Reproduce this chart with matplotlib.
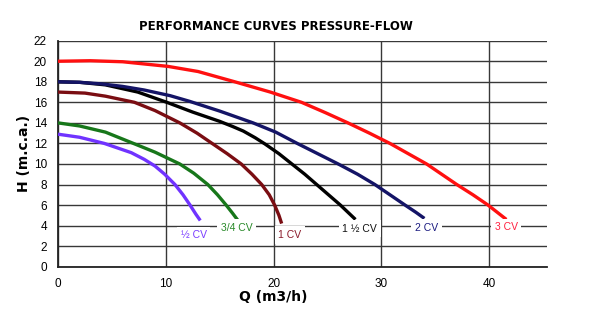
import matplotlib
matplotlib.use("Agg")
import matplotlib.pyplot as plt

# ---- data ----
red_x = [0, 3, 6, 10.2, 13, 16.4, 19.7, 22.6, 24.8, 26.9, 28.9, 30.8, 32.5, 34.2, 35.6, 37.0, 38.5, 39.9, 41.6]
red_y = [20, 20.05, 19.95, 19.5, 19.0, 18, 17, 16, 15, 14, 13, 12, 11, 10, 9, 8, 7, 6, 4.6]

navy_x = [0, 2, 4, 6, 8, 10.4, 12.2, 15, 18.1, 20.2, 22.2, 24.1, 26, 27.8, 29.4, 30.8, 32.2, 33.2, 34]
navy_y = [18, 17.95, 17.8, 17.55, 17.2, 16.65, 16.1, 15.15, 14, 13.1, 12, 11, 10, 9, 8, 7, 6, 5.3, 4.7]

black_x = [0, 2, 4.4, 7.4, 10.1, 12.5, 15, 16.2, 17.2, 18.3, 19.2, 20.5, 21.7, 22.9, 24, 25.1, 26.2, 27, 27.6]
black_y = [18, 17.95, 17.7, 17.0, 16.0, 15.05, 14.15, 13.65, 13.2, 12.55, 11.95, 11.0, 10, 9, 8, 7, 6, 5.2, 4.6]

maroon_x = [0, 2.5, 4.4, 7.1, 9, 11.3, 12.9, 14.3, 15.7, 17, 18.0, 18.9, 19.6, 20.1, 20.5, 20.75]
maroon_y = [17, 16.9, 16.6, 16, 15.2, 14, 13, 12, 11, 10, 9, 8, 7, 6, 5, 4.2]

green_x = [0, 2, 4.4, 7, 9, 11.3, 12.6, 13.9, 14.8, 15.6, 16.2, 16.7]
green_y = [14, 13.7, 13.1, 12, 11.15, 10, 9.1, 8, 7, 6, 5.2, 4.5]

purple_x = [0, 2, 4.3, 6.8, 8, 9, 9.9, 10.85, 11.6, 12.25, 12.8, 13.2]
purple_y = [12.9, 12.6, 12, 11.1, 10.45, 9.8, 9.0, 8, 7, 6, 5.1, 4.5]

labels = ["½ CV", "3/4 CV", "1 CV", "1 ½ CV", "2 CV", "3 CV"]
label_x = [12.6, 16.6, 21.5, 28.0, 34.2, 41.6]
label_y = [3.05, 3.8, 3.1, 3.7, 3.8, 3.85]

x_ticks = [0, 10, 20, 30, 40]
y_ticks = [0, 2, 4, 6, 8, 10, 12, 14, 16, 18, 20, 22]

# ---- styles ----
series = [
    (purple_x, purple_y, "#7033ff"),
    (green_x, green_y, "#17771a"),
    (maroon_x, maroon_y, "#7a0d12"),
    (black_x, black_y, "#000000"),
    (navy_x, navy_y, "#141466"),
    (red_x, red_y, "#ff1010"),
]
label_colors = ["#7a3cff", "#2a8a2a", "#8b1a2a", "#111111", "#1a1a80", "#ff2040"]

fig = plt.figure(figsize=(6.0, 3.32), dpi=100)
ax = fig.add_axes([58 / 600, 1 - 266.7 / 332, (547.3 - 58) / 600, (266.7 - 40.7) / 332])

ax.set_xlim(0, 45.4)
ax.set_ylim(0, 22)
ax.set_xticks(x_ticks)
ax.set_yticks(y_ticks)
ax.grid(True, color="#383838", linewidth=1.0)
ax.set_axisbelow(True)

for s in ["top", "right"]:
    ax.spines[s].set_visible(False)
for s in ["left", "bottom"]:
    ax.spines[s].set_color("#222222")
    ax.spines[s].set_linewidth(1.3)

ax.tick_params(length=0, pad=8, labelsize=8.5)
for lab in ax.get_xticklabels() + ax.get_yticklabels():
    lab.set_fontfamily("Liberation Sans")

for xs, ys, c in series:
    ax.plot(xs, ys, color=c, linewidth=2.4, solid_capstyle="butt",
            solid_joinstyle="round", zorder=3)

for t, x, y, c in zip(labels, label_x, label_y, label_colors):
    ax.text(x, y, t, color=c, fontsize=7.5, family="Liberation Sans",
            ha="center", va="center", zorder=4,
            bbox=dict(boxstyle="square,pad=0.35", facecolor="white", edgecolor="none"))

fig.text(276 / 600, 1 - 27 / 332, "PERFORMANCE CURVES PRESSURE-FLOW",
         fontsize=8.5, fontweight="bold", family="DejaVu Sans", ha="center", va="center")
fig.text(273 / 600, 1 - 297 / 332, "Q (m3/h)", fontsize=10, fontweight="bold",
         family="DejaVu Sans", ha="center", va="center")
fig.text(24 / 600, 1 - 153 / 332, "H (m.c.a.)", fontsize=10, fontweight="bold",
         family="DejaVu Sans", ha="center", va="center", rotation=90)

fig.savefig("out.png", dpi=100, facecolor="white")
